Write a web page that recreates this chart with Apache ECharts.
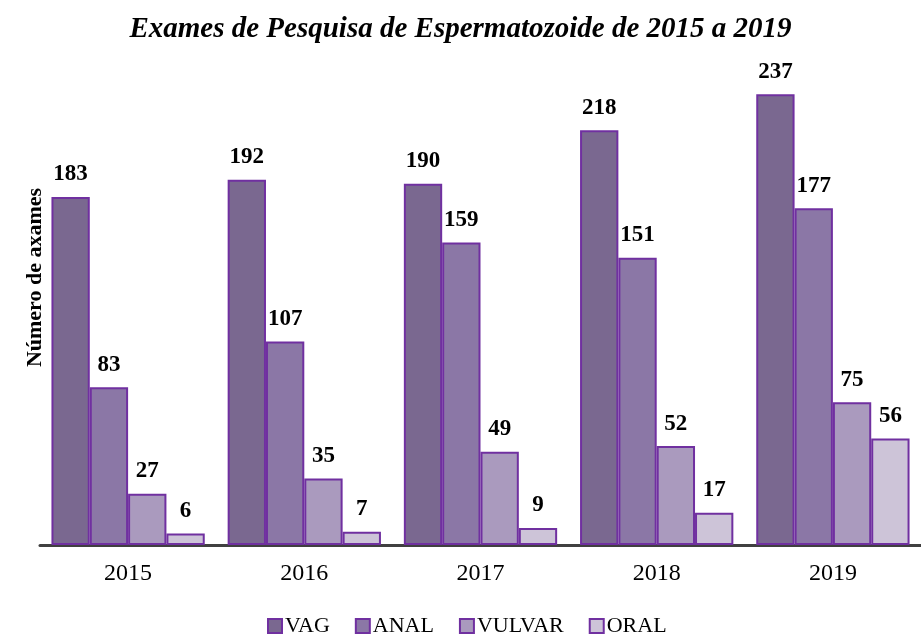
<!DOCTYPE html>
<html lang="pt">
<head>
<meta charset="UTF-8">
<title>Exames de Pesquisa de Espermatozoide</title>
<script src="https://cdn.jsdelivr.net/npm/echarts@6/dist/echarts.min.js"></script>
<style>
    body { margin: 0; background: #fff; }
    #chart { width: 921px; height: 644px; }
</style>
</head>
<body>
<div id="chart"></div>
<script>
    // dados
    var years = ['2015', '2016', '2017', '2018', '2019'];
    var vag = [183, 192, 190, 218, 237];
    var anal = [83, 107, 159, 151, 177];
    var vulvar = [27, 35, 49, 52, 75];
    var oral = [6, 7, 9, 17, 56];

    var names = ['VAG', 'ANAL', 'VULVAR', 'ORAL'];
    var values = [vag, anal, vulvar, oral];
    var colors = ['#7a6890', '#8b77a6', '#aa9abe', '#cdc4d8'];

    var chart = echarts.init(document.getElementById('chart'));

    var series = names.map(function (n, i) {
        return {
            name: n,
            type: 'bar',
            data: values[i],
            barGap: '0%',
            barCategoryGap: '13%',
            itemStyle: { color: colors[i], borderColor: '#7030a0', borderWidth: 2 },
            label: {
                show: true,
                position: 'top',
                distance: 11,
                fontFamily: 'Liberation Serif',
                fontWeight: 'bold',
                fontSize: 23,
                color: '#000'
            }
        };
    });

    chart.setOption({
        animation: false,
        title: {
            text: 'Exames de Pesquisa de Espermatozoide de 2015 a 2019',
            left: 'center',
            top: 10,
            textStyle: {
                fontFamily: 'Liberation Serif',
                fontStyle: 'italic',
                fontWeight: 'bold',
                fontSize: 29,
                color: '#000'
            }
        },
        legend: {
            data: names,
            bottom: 2,
            left: 262,
            icon: 'rect',
            itemWidth: 14,
            itemHeight: 14,
            itemGap: 25,
            itemStyle: { borderColor: '#7030a0', borderWidth: 2 },
            textStyle: { fontFamily: 'Liberation Serif', fontSize: 22, color: '#000', padding: [0, 0, 0, -2] }
        },
        grid: { left: 40, right: 0, top: 60, bottom: 99 },
        xAxis: {
            type: 'category',
            data: years,
            axisLine: { lineStyle: { color: '#404040', width: 3 } },
            axisTick: { show: false },
            axisLabel: { fontFamily: 'Liberation Serif', fontSize: 24, color: '#000', margin: 17 }
        },
        yAxis: {
            type: 'value',
            min: 0,
            max: 255,
            name: 'Número de axames',
            nameLocation: 'middle',
            nameGap: -6,
            nameTextStyle: {
                fontFamily: 'Liberation Serif',
                fontWeight: 'bold',
                fontSize: 22,
                color: '#000',
                padding: [0, 0, 0, 50]
            },
            axisLine: { show: false },
            axisTick: { show: false },
            axisLabel: { show: false },
            splitLine: { show: false }
        },
        series: series
    });
</script>
</body>
</html>
